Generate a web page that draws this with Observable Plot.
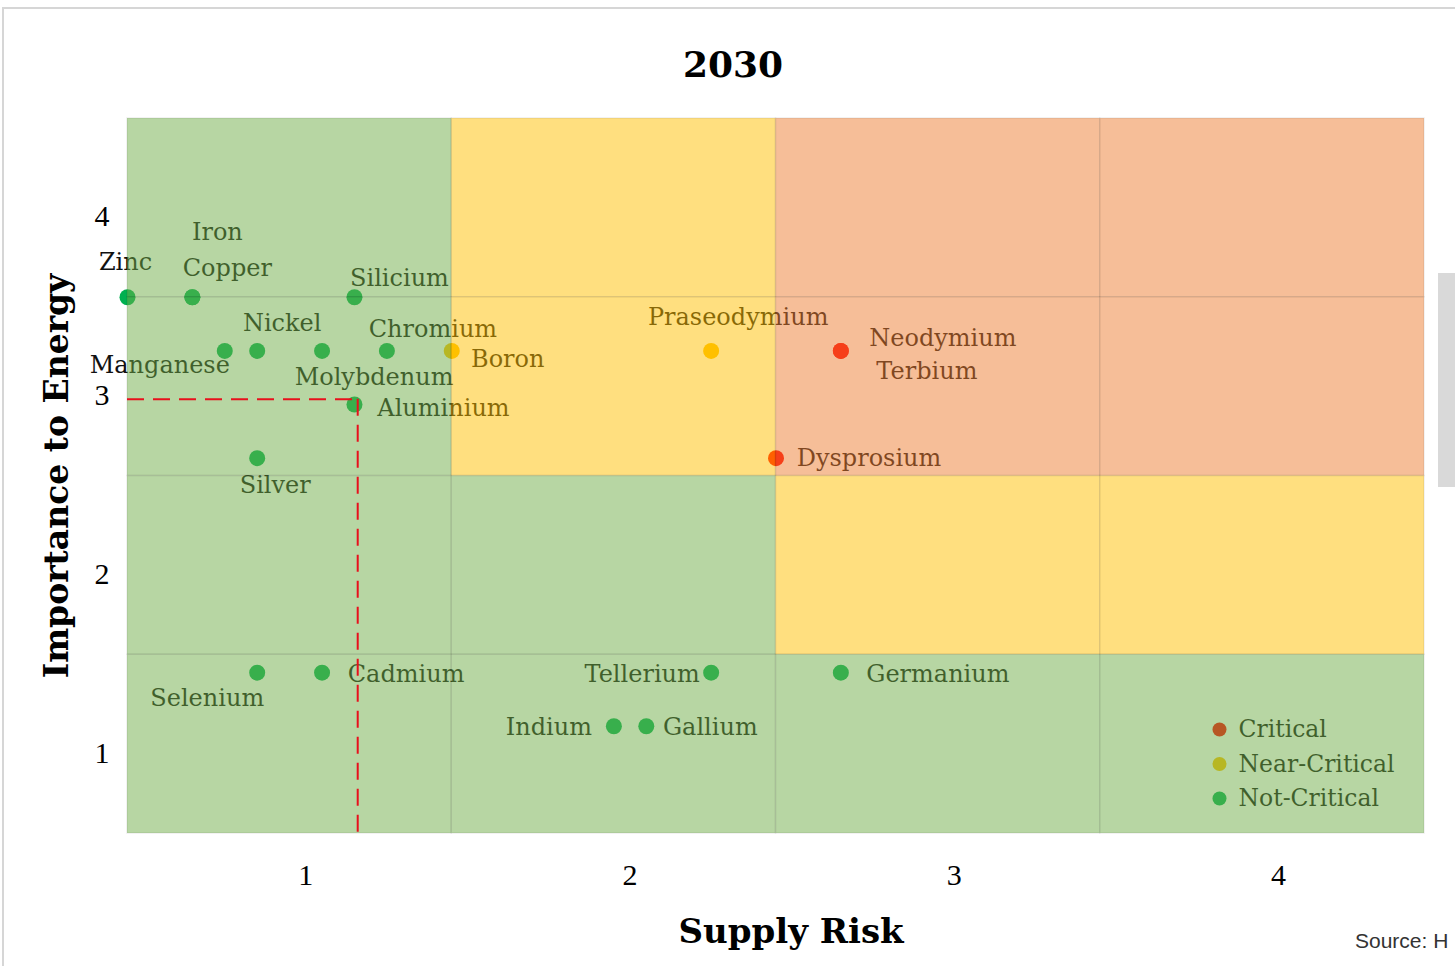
<!DOCTYPE html>
<html><head><meta charset="utf-8">
<script src="https://cdn.jsdelivr.net/npm/d3@7"></script>
<script src="https://cdn.jsdelivr.net/npm/@observablehq/plot@0.6"></script>
<style>
html,body{margin:0;padding:0;background:#fff;}
#page{position:relative;width:1455px;height:966px;overflow:hidden;}
#frame{position:absolute;left:2px;top:7px;width:1470px;height:980px;border-top:2px solid #d6d6d6;border-left:2px solid #d6d6d6;}
#chart{position:absolute;left:0;top:0;}
#title{position:absolute;left:583px;width:300px;top:43px;text-align:center;font:bold 36px "DejaVu Serif";color:#000;}
#source{position:absolute;left:1355px;top:929px;font:21px "Liberation Sans";color:#333;white-space:nowrap;}
#bar{position:absolute;left:1438px;top:273px;width:17px;height:214px;background:#d9d9d9;}
</style></head>
<body><div id="page"><div id="frame"></div><div id="chart"></div><div id="title">2030</div><div id="bar"></div><div id="source">Source: H</div></div>
<script>
// ---- data ----
const elements   = ["Zinc","Iron","Copper","Silicium","Manganese","Nickel","Molybdenum","Chromium","Boron","Aluminium","Silver","Selenium","Cadmium","Tellerium","Indium","Gallium","Germanium","Praseodymium","Neodymium","Terbium","Dysprosium"];
const supplyRisk = [0.45,0.65,0.65,1.15,0.75,0.85,1.05,1.25,1.45,1.15,0.85,0.85,1.05,2.25,1.95,2.05,2.65,2.25,2.65,2.65,2.45];
const importance = [3.55,3.55,3.55,3.55,3.25,3.25,3.25,3.25,3.25,2.95,2.65,1.45,1.45,1.45,1.15,1.15,1.45,3.25,3.25,3.25,2.65];
const status     = ["Not-Critical","Not-Critical","Not-Critical","Not-Critical","Not-Critical","Not-Critical","Not-Critical","Not-Critical","Near-Critical","Not-Critical","Not-Critical","Not-Critical","Not-Critical","Not-Critical","Not-Critical","Not-Critical","Not-Critical","Near-Critical","Critical","Critical","Critical"];
const levels     = ["Critical","Near-Critical","Not-Critical"];
const xTicks     = [1,2,3,4];
const yTicks     = [1,2,3,4];
// criticality zones: rows = importance 4..1, columns = supply risk 1..4
const zoneRows   = [4,3,2,1];
const zoneCols   = [1,2,3,4];
const zoneLevels = [
  ["Not-Critical","Near-Critical","Critical","Critical"],
  ["Not-Critical","Near-Critical","Critical","Critical"],
  ["Not-Critical","Not-Critical","Near-Critical","Near-Critical"],
  ["Not-Critical","Not-Critical","Not-Critical","Not-Critical"]
];
// reference (dashed) lines
const refSupply = 1.16;
const refImportance = 2.98;

// ---- styles ----
const dotColor  = {"Critical":"#ff0000","Near-Critical":"#ffc000","Not-Critical":"#00b050"};
const zoneColor = {"Critical":"#ed7d31","Near-Critical":"#ffc000","Not-Critical":"#70ad47"};
const labelOffset = {
  Zinc:[-2,-35], Iron:[25,-65], Copper:[35,-29], Silicium:[45,-19], Manganese:[-65,14],
  Nickel:[25,-28], Molybdenum:[52,26], Chromium:[46,-22], Boron:[56,8], Aluminium:[89,4],
  Silver:[18,27], Selenium:[-50,26], Cadmium:[84,2], Tellerium:[-69,2], Indium:[-65,1],
  Gallium:[64,1], Germanium:[97,2], Praseodymium:[27,-34], Neodymium:[102,-13],
  Terbium:[86,20], Dysprosium:[93,0]
};
const xDomain = [0.45, 4.45];
const yDomain = [0.55, 4.55];
const serif = "DejaVu Serif";

const rows = elements.map((name, i) => ({name, x: supplyRisk[i], y: importance[i], level: status[i]}));
const cells = [];
zoneRows.forEach((r, ri) => zoneCols.forEach((c, ci) => cells.push({
  x1: c - 0.55, x2: c + 0.45, y1: r - 0.45, y2: r + 0.55, level: zoneLevels[ri][ci]
})));

const labelMarks = rows.map(d => Plot.text([d], {
  x: "x", y: "y", text: "name", dx: labelOffset[d.name][0], dy: labelOffset[d.name][1],
  fontSize: 24, fontFamily: serif, fill: "#111", textAnchor: "middle", lineAnchor: "middle"
}));
const legendMarks = levels.flatMap((lev, i) => [
  Plot.dot([lev], {frameAnchor: "bottom-right", dx: -205, dy: -104 + i * 34.5, r: 7, fill: dotColor[lev]}),
  Plot.text([lev], {frameAnchor: "bottom-right", dx: -186, dy: -104 + i * 34.5, text: d => d,
    textAnchor: "start", lineAnchor: "middle", fontSize: 23.5, fontFamily: serif, fill: "#111"})
]);

const chart = Plot.plot({
  width: 1455, height: 966,
  marginLeft: 127, marginRight: 31, marginTop: 118, marginBottom: 133,
  x: {domain: xDomain},
  y: {domain: yDomain},
  color: {type: "identity"},
  style: {background: "transparent", fontFamily: serif},
  marks: [
    Plot.dot(rows, {x: "x", y: "y", r: 8, fill: d => dotColor[d.level]}),
    ...labelMarks,
    ...legendMarks,
    Plot.rect(cells, {x1: "x1", x2: "x2", y1: "y1", y2: "y2",
      fill: d => zoneColor[d.level], fillOpacity: 0.5,
      stroke: "#000", strokeOpacity: 0.07, strokeWidth: 1.5}),
    Plot.ruleX([refSupply], {x: d => d, y1: refImportance, y2: yDomain[0], stroke: "#e8101c", strokeWidth: 2, strokeDasharray: "17 9"}),
    Plot.ruleY([refImportance], {y: d => d, x1: xDomain[0], x2: refSupply, stroke: "#e8101c", strokeWidth: 2, strokeDasharray: "17 9"}),
    Plot.axisX(xTicks, {tickSize: 0, tickPadding: 30, fontSize: 30, fontFamily: "Liberation Serif", tickFormat: d => String(d), label: null}),
    Plot.axisY(yTicks, {tickSize: 0, tickPadding: 18, fontSize: 30, fontFamily: "Liberation Serif", tickFormat: d => String(d), label: null}),
    Plot.text(["Supply Risk"], {frameAnchor: "bottom", dx: 15, dy: 99, lineAnchor: "middle", text: d => d, fontSize: 34, fontWeight: "bold", fontFamily: serif, fill: "#000"}),
    Plot.text(["Importance to Energy"], {frameAnchor: "left", dx: -70, rotate: -90, textAnchor: "middle", lineAnchor: "middle", text: d => d, fontSize: 33, fontWeight: "bold", fontFamily: serif, fill: "#000"})
  ]
});
document.getElementById("chart").appendChild(chart);
</script>
</body></html>
